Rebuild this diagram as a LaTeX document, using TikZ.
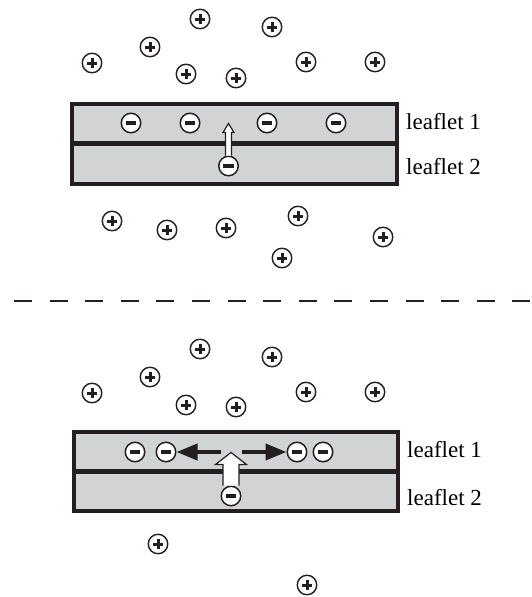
\documentclass[tikz,border=0pt]{standalone}
\usepackage{fontspec}
\setmainfont{Liberation Serif}
\usetikzlibrary{arrows.meta}

\definecolor{ink}{HTML}{231F20}
\definecolor{membrane}{HTML}{D1D3D4}

\tikzset{
    ion/.style={circle, draw=ink, line width=1.4pt, fill=white, minimum size=19.5pt, inner sep=0pt},
    cation/.style={ion, path picture={
        \fill[ink] (path picture bounding box.center) +(-5,-1.5) rectangle +(5,1.5);
        \fill[ink] (path picture bounding box.center) +(-1.5,-5) rectangle +(1.5,5);}},
    anion/.style={ion, line width=1.5pt, path picture={
        \fill[ink] (path picture bounding box.center) +(-5.4,-1.6) rectangle +(5.4,1.6);}},
    leaflabel/.style={anchor=base west, inner sep=0pt, font=\fontsize{23}{27}\selectfont},
    hollow/.style={draw=ink, fill=white, line width=1.2pt, line join=miter},
    push/.style={draw=ink, line width=4pt, -{Triangle[length=21pt,width=16pt]}},
}

\begin{document}
\begin{tikzpicture}[x=1pt, y=-1pt]
        \useasboundingbox (0,0) rectangle (532,597);

        % upper membrane
        \draw[draw=ink, fill=membrane, line width=4pt] (72,104) rectangle (397,184);
        \draw[draw=ink, line width=4.5pt] (72,143.5) -- (397,143.5);
        \node[leaflabel] (l1a) at (406,129) {leaflet 1};
        \node[leaflabel] (l2a) at (406,174) {leaflet 2};

        \node[anion] (a1) at (131,123) {};
        \node[anion] (a2) at (190,123) {};
        \node[anion] (a3) at (267,123) {};
        \node[anion] (a4) at (336,123) {};
        \node[anion] (a5) at (228.5,166) {};
        \draw[hollow] (a5.north) ++(-3,0) -- ++(0,-23) -- ++(-2.5,0) -- ++(5.5,-9)
            -- ++(5.5,9) -- ++(-2.5,0) -- ++(0,23);

        \node[cation] (p1) at (200,19) {};
        \node[cation] (p2) at (272,27) {};
        \node[cation] (p3) at (150,47) {};
        \node[cation] (p4) at (92,63) {};
        \node[cation] (p5) at (186,74) {};
        \node[cation] (p6) at (236,78) {};
        \node[cation] (p7) at (306,62) {};
        \node[cation] (p8) at (375,62) {};

        \node[cation] (p9) at (112,221) {};
        \node[cation] (p10) at (167,230) {};
        \node[cation] (p11) at (226,228) {};
        \node[cation] (p12) at (298,216) {};
        \node[cation] (p13) at (383,237) {};
        \node[cation] (p14) at (282,258) {};

        % separator
        \coordinate (dl) at (14,301);
        \coordinate (dr) at (532,301);
        \draw[draw=ink, line width=1.3pt, dash pattern=on 18pt off 17.6pt] (dl) -- (dr);

        % lower membrane
        \draw[draw=ink, fill=membrane, line width=4pt] (74,432) rectangle (398,511);
        \draw[draw=ink, line width=4.5pt] (74,471.5) -- (398,471.5);
        \node[leaflabel] (l1b) at (407,457) {leaflet 1};
        \node[leaflabel] (l2b) at (407,505) {leaflet 2};

        \node[anion] (b1) at (135,452) {};
        \node[anion] (b2) at (166,452) {};
        \node[anion] (b3) at (297,452) {};
        \node[anion] (b4) at (323,452) {};
        \node[anion] (b5) at (231,496) {};
        \draw[hollow] (b5.north) ++(-8,0) -- ++(0,-21) -- ++(-7.5,0) -- ++(15.5,-12)
            -- ++(15.5,12) -- ++(-7.5,0) -- ++(0,21);
        \coordinate (sl) at (221,452);
        \coordinate (sr) at (242,452);
        \draw[push] (sl) -- (b2);
        \draw[push] (sr) -- (b3);

        \node[cation] (q1) at (200,349) {};
        \node[cation] (q2) at (272,357) {};
        \node[cation] (q3) at (150,377) {};
        \node[cation] (q4) at (92,393) {};
        \node[cation] (q5) at (186,405) {};
        \node[cation] (q6) at (236,407) {};
        \node[cation] (q7) at (306,392) {};
        \node[cation] (q8) at (375,392) {};

        \node[cation] (q9) at (158,544) {};
        \node[cation] (q10) at (307,585) {};

    \end{tikzpicture}
\end{document}
